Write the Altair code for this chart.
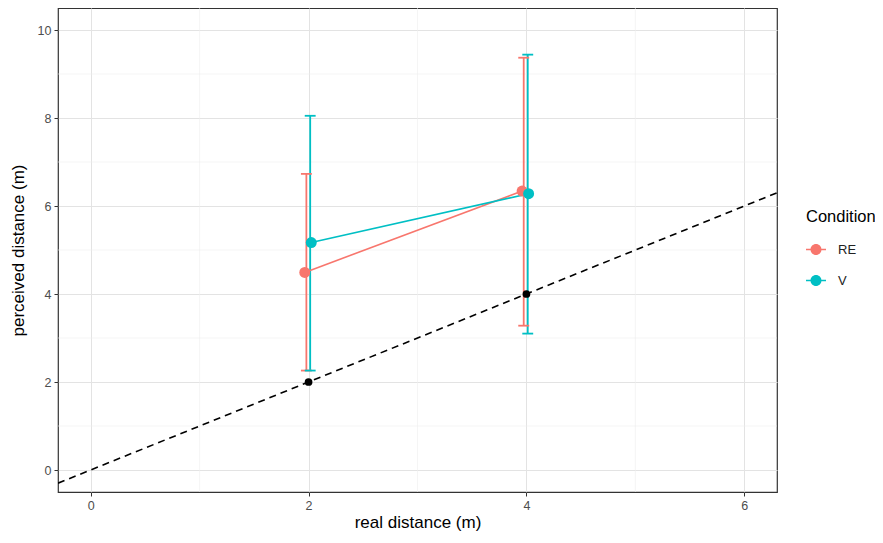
import altair as alt
import pandas as pd

# ---- data ----
condition = ["RE", "RE", "V", "V"]
real_distance = [2, 4, 2, 4]
point_x = [1.965, 3.96, 2.025, 4.02]      # dodged point positions
bar_x = [1.98, 3.975, 2.015, 4.012]       # dodged errorbar positions
perceived = [4.49, 6.34, 5.17, 6.28]
err_low = [2.26, 3.28, 2.26, 3.10]
err_high = [6.73, 9.37, 8.05, 9.44]

ref_x = [2, 4]
ref_y = [2, 4]
abline_x = [-0.3, 6.3]

x_major = [0, 2, 4, 6]
x_minor = [1, 3, 5]
y_major = [0, 2, 4, 6, 8, 10]
y_minor = [1, 3, 5, 7, 9]

cap_half = 0.05
colors = ["#F8766D", "#00BFC4"]

df = pd.DataFrame({
    "Condition": condition, "real": real_distance, "px": point_x, "bx": bar_x,
    "perceived": perceived, "lo": err_low, "hi": err_high,
})
df["cx1"] = df["bx"] - cap_half
df["cx2"] = df["bx"] + cap_half

xs = alt.Scale(domain=[-0.3, 6.3], nice=False, zero=False)
ys = alt.Scale(domain=[-0.5, 10.5], nice=False, zero=False)
cs = alt.Scale(domain=["RE", "V"], range=colors)

X = lambda f: alt.X(f, type="quantitative", scale=xs, title="real distance (m)",
                    axis=alt.Axis(values=x_major, grid=True, format="d"))
Y = lambda f: alt.Y(f, type="quantitative", scale=ys, title="perceived distance (m)",
                    axis=alt.Axis(values=y_major, grid=True, format="d"))

minor_v = alt.Chart(pd.DataFrame({"x": x_minor})).mark_rule(
    color="#EFEFEF", strokeWidth=0.6).encode(x=alt.X("x:Q", scale=xs))
minor_h = alt.Chart(pd.DataFrame({"y": y_minor})).mark_rule(
    color="#EFEFEF", strokeWidth=0.6).encode(y=alt.Y("y:Q", scale=ys))

abline = alt.Chart(pd.DataFrame({"x": abline_x, "y": abline_x})).mark_line(
    color="black", strokeDash=[7, 5], strokeWidth=1.6, clip=True
).encode(x=X("x"), y=Y("y"))

color_enc = alt.Color("Condition:N", scale=cs, title="Condition")

bars = alt.Chart(df).mark_rule(strokeWidth=1.8).encode(
    x=X("bx"), y=Y("lo"), y2="hi", color=color_enc)
caps_lo = alt.Chart(df).mark_rule(strokeWidth=1.8).encode(
    x=X("cx1"), x2="cx2", y=Y("lo"), color=color_enc)
caps_hi = alt.Chart(df).mark_rule(strokeWidth=1.8).encode(
    x=X("cx1"), x2="cx2", y=Y("hi"), color=color_enc)

lines = alt.Chart(df).mark_line(strokeWidth=1.6).encode(
    x=X("px"), y=Y("perceived"), color=color_enc, detail="Condition:N")

legend_path = ("M -1 -0.07 L 1 -0.07 L 1 0.07 L -1 0.07 Z "
               "M 0.55 0 A 0.55 0.55 0 1 1 -0.55 0 A 0.55 0.55 0 1 1 0.55 0 Z")

points = alt.Chart(df).mark_point(filled=True, size=120, opacity=1).encode(
    x=X("px"), y=Y("perceived"),
    color=alt.Color("Condition:N", scale=cs, title="Condition", legend=alt.Legend(
        orient="none", legendX=748, legendY=201,
        symbolType=legend_path, symbolSize=400)))

ref_points = alt.Chart(pd.DataFrame({"x": ref_x, "y": ref_y})).mark_point(
    filled=True, size=60, color="black", opacity=1).encode(x=X("x"), y=Y("y"))

chart = alt.layer(
    minor_v, minor_h, abline, bars, caps_lo, caps_hi, lines, points, ref_points
).properties(
    width=719, height=484,
    autosize=alt.AutoSizeParams(type="none"),
    padding={"left": 50, "top": 0, "right": 98, "bottom": 43},
).configure_view(
    stroke="#333333", strokeWidth=1.2
).configure_axis(
    gridColor="#E3E3E3", gridWidth=1,
    domain=False, tickColor="#333333", tickSize=4, tickWidth=1,
    labelColor="#4D4D4D", labelFontSize=12.5, labelFont="Liberation Sans",
    titleFont="Liberation Sans", titleFontSize=17, titleFontWeight="normal",
    titleColor="black", labelPadding=3,
).configure_axisX(titlePadding=3).configure_axisY(titlePadding=10
).configure_legend(
    symbolType=legend_path, symbolSize=400, symbolStrokeWidth=0,
    symbolOpacity=1, titleFontSize=16.5, titleFontWeight="normal",
    titleColor="black", labelFontSize=13, labelColor="#222222",
    rowPadding=14, titlePadding=14, labelOffset=12,
    titleFont="Liberation Sans", labelFont="Liberation Sans",
)

chart.save("out.html", embed_options={"renderer": "svg", "actions": False})
